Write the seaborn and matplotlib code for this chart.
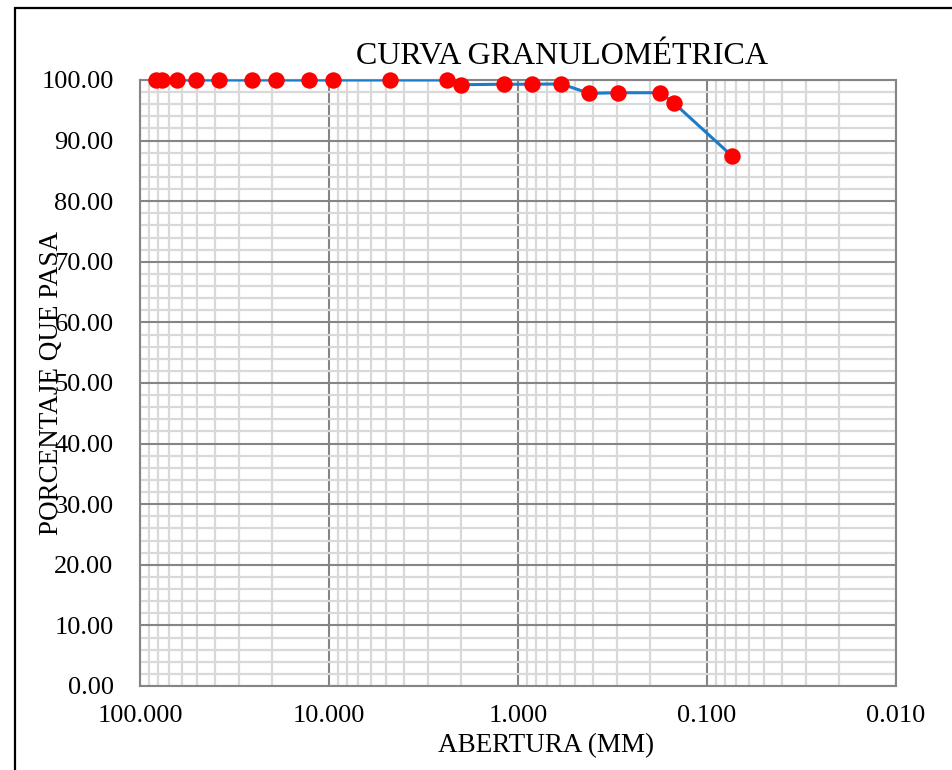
import matplotlib
matplotlib.use("Agg")
import matplotlib.pyplot as plt
import matplotlib.ticker as mticker
from matplotlib.patches import Rectangle
import numpy as np
import pandas as pd
import seaborn as sns

# Sieve openings (mm) and cumulative percent passing
abertura_mm = [81.8, 76.2, 63.5, 50.8, 38.1, 25.4, 19.05, 12.7, 9.525, 4.76,
               2.38, 2.0, 1.19, 0.84, 0.59, 0.42, 0.297, 0.177, 0.149, 0.074]
pasa_pct = [100.0, 100.0, 100.0, 100.0, 100.0, 100.0, 100.0, 100.0, 100.0, 100.0,
            100.0, 99.22, 99.3, 99.3, 99.35, 97.8, 97.9, 97.9, 96.15, 87.5]

x_ticks = [100, 10, 1, 0.1, 0.01]
x_tick_labels = ["100.000", "10.000", "1.000", "0.100", "0.010"]
y_ticks = list(range(0, 101, 10))
y_tick_labels = [f"{v:.2f}" for v in y_ticks]

df = pd.DataFrame({"abertura": abertura_mm, "pasa": pasa_pct})

sns.set_theme(style="white")
plt.rcParams["font.family"] = ["Liberation Serif", "DejaVu Serif"]
plt.rcParams["text.color"] = "black"
plt.rcParams["axes.labelcolor"] = "black"

fig = plt.figure(figsize=(9.53, 7.70), dpi=100)
ax = fig.add_axes([140 / 953, 1 - 686 / 770, 756 / 953, 606 / 770])

sns.lineplot(data=df, x="abertura", y="pasa", ax=ax, sort=False,
             color="#1B7CC8", linewidth=2.2, zorder=3)
sns.scatterplot(data=df, x="abertura", y="pasa", ax=ax, color="#FF0000",
                s=140, edgecolor="#FF0000", linewidth=0, zorder=4, clip_on=False)

ax.set_xscale("log")
ax.set_xlim(100, 0.01)
ax.set_ylim(0, 100)

ax.xaxis.set_major_locator(mticker.FixedLocator(x_ticks))
ax.xaxis.set_major_formatter(mticker.FixedFormatter(x_tick_labels))
ax.xaxis.set_minor_locator(mticker.LogLocator(base=10, subs=np.arange(2, 10)))
ax.xaxis.set_minor_formatter(mticker.NullFormatter())
ax.yaxis.set_major_locator(mticker.FixedLocator(y_ticks))
ax.yaxis.set_major_formatter(mticker.FixedFormatter(y_tick_labels))
ax.yaxis.set_minor_locator(mticker.MultipleLocator(2))

ax.grid(which="minor", color="#D9D9D9", linewidth=1.6, zorder=0)
ax.grid(which="major", color="#858585", linewidth=1.5, zorder=1)
ax.set_axisbelow(True)

for s in ax.spines.values():
    s.set_color("#858585")
    s.set_linewidth(1.5)

ax.tick_params(which="both", length=0)
ax.tick_params(axis="x", labelsize=19, pad=14, colors="black")
ax.tick_params(axis="y", labelsize=19, pad=19, colors="black")

ax.set_xlabel("ABERTURA (MM)", fontsize=19.5, va="center")
ax.xaxis.set_label_coords((546 - 140) / 756, -(746 - 686) / 606)
ax.set_ylabel("PORCENTAJE QUE PASA", fontsize=19.5, va="center")
ax.yaxis.set_label_coords((52 - 140) / 756, 0.5)

fig.text(562 / 953, 1 - 56 / 770, "CURVA GRANULOMÉTRICA", fontsize=23,
         ha="center", va="center", color="black")

# Outer chart frame
fig.patches.append(Rectangle((15 / 953, -0.2), 1.2, 1.2 - 8 / 770,
                             transform=fig.transFigure, fill=False,
                             edgecolor="black", linewidth=1.6, zorder=10))

fig.savefig("out.png", dpi=100)
